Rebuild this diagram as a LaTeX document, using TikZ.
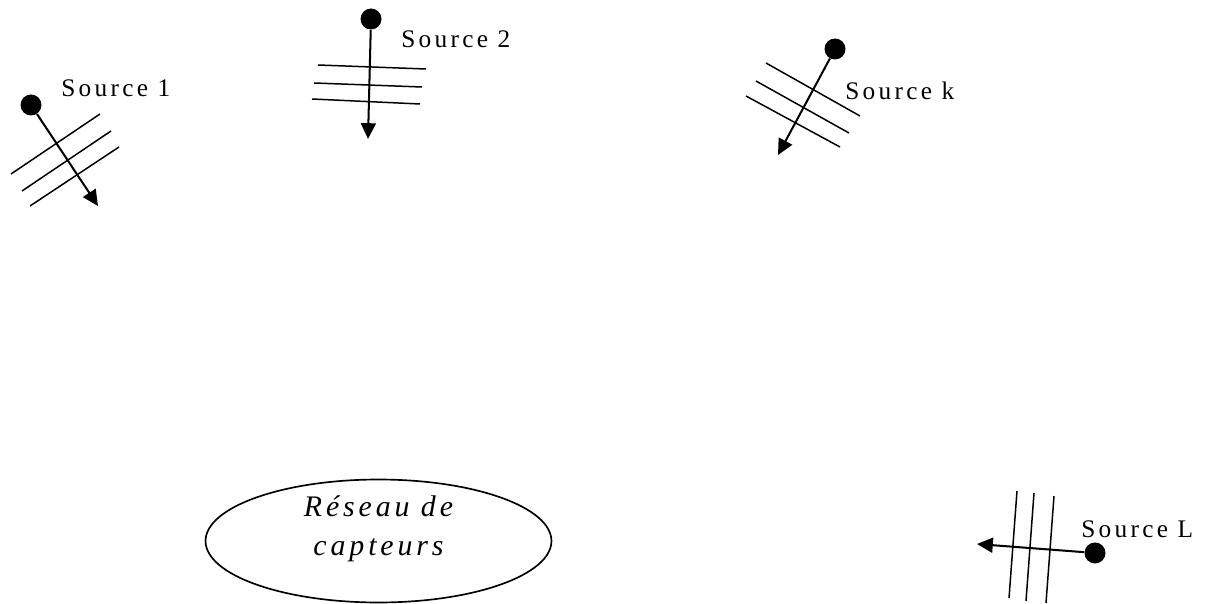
\documentclass[tikz,border=0pt]{standalone}
\usepackage{fontspec}
\setmainfont{Liberation Serif}
\newfontfamily\srcfont[LetterSpace=13]{Liberation Serif}
\usetikzlibrary{shapes.geometric,arrows.meta}
\tikzset{
  dot/.style={circle,fill=black,inner sep=0pt,minimum size=0.42cm},
  ray/.style={line width=1.15pt,-{Triangle[length=9pt,width=8.5pt]}},
  wave/.style={line width=0.85pt},
  lab/.style={anchor=base west,inner sep=0pt,font=\srcfont\fontsize{14.4}{16}\selectfont},
  net/.style={ellipse,draw,line width=0.95pt,minimum width=6.92cm,minimum height=2.46cm,inner sep=0pt},
  netlab/.style={align=center,inner sep=0pt,font=\srcfont\itshape\fontsize{17}{22}\selectfont},
}
\begin{document}
\begin{tikzpicture}[x=0.02cm,y=-0.02cm]
\path[use as bounding box] (0,0) rectangle (1206,604);

% Source 1
\node[dot] (s1) at (31,105) {};
\coordinate (t1) at (98,206);
\draw[wave] (11,174) -- (100,114);
\draw[wave] (22,191) -- (111,131);
\draw[wave] (30,206) -- (119,147);
\draw[ray] (s1) -- (t1);
\node[lab] (l1) at (61,97) {Source 1};

% Source 2
\node[dot] (s2) at (371,19) {};
\coordinate (t2) at (368,139);
\draw[wave] (318,65) -- (426,69);
\draw[wave] (314,83) -- (422,87);
\draw[wave] (312,99) -- (420,104);
\draw[ray] (s2) -- (t2);
\node[lab] (l2) at (401,48) {Source 2};

% Source k
\node[dot] (sk) at (835,49) {};
\coordinate (tk) at (778,155);
\draw[wave] (766,63) -- (860,116);
\draw[wave] (756,81) -- (849,133);
\draw[wave] (746,96) -- (840,147);
\draw[ray] (sk) -- (tk);
\node[lab] (lk) at (845,100) {Source k};

% Source L
\node[dot] (sL) at (1095,553) {};
\coordinate (tL) at (977,544);
\draw[wave] (1017,491) -- (1009,598);
\draw[wave] (1034,493) -- (1026,601);
\draw[wave] (1054,496) -- (1046,603);
\draw[ray] (sL) -- (tL);
\node[lab] (lL) at (1081,537) {Source L};

% Network
\node[net] (net) at (378.5,541) {};
\node[netlab] (netl) at (378.5,529) {R\'eseau de\\capteurs};
\end{tikzpicture}
\end{document}
